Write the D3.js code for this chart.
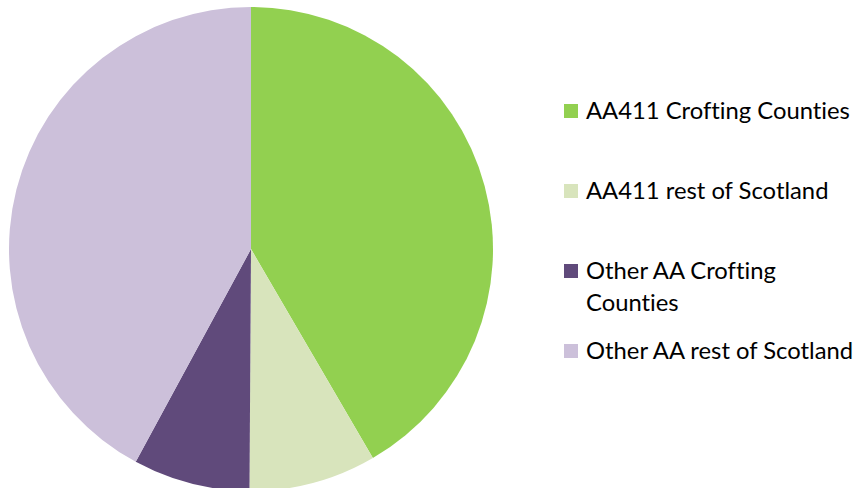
<!DOCTYPE html>
<html>
<head>
<meta charset="utf-8">
<script src="https://cdn.jsdelivr.net/npm/d3@7.9.0/dist/d3.min.js"></script>
<style>
  html, body { margin: 0; padding: 0; background: #fff; }
  svg { display: block; }
  text { font-variant-ligatures: none; font-feature-settings: "liga" 0, "clig" 0; }
</style>
</head>
<body>
<svg id="chart" width="861" height="488"></svg>
<script>
const categories = ["AA411 Crofting Counties", "AA411 rest of Scotland", "Other AA Crofting Counties", "Other AA rest of Scotland"];
const values = [41.6, 8.5, 7.8, 42.1];
const colors = ["#92D050", "#D8E4BC", "#604A7B", "#CCC0DA"];
// legend text as it wraps in the original
const legendLines = [["AA411 Crofting Counties"], ["AA411 rest of Scotland"], ["Other AA Crofting", "Counties"], ["Other AA rest of Scotland"]];

const width = 861, height = 488;
const cx = 251, cy = 249, radius = 242;

const svg = d3.select("#chart");

const data = categories.map((c, i) => ({ name: c, value: values[i], color: colors[i] }));

const pie = d3.pie()
  .sort(null)
  .value(d => d.value);

const arc = d3.arc()
  .innerRadius(0)
  .outerRadius(radius);

const g = svg.append("g").attr("transform", `translate(${cx},${cy})`);

g.selectAll("path")
  .data(pie(data))
  .join("path")
  .attr("d", arc)
  .attr("fill", d => d.data.color);

// legend
const rowY = d3.scalePoint()
  .domain(categories)
  .range([111, 351]);

const legend = svg.append("g").attr("font-family", "Lato, 'Open Sans', sans-serif");

const rows = legend.selectAll("g")
  .data(data)
  .join("g")
  .attr("transform", d => `translate(0,${rowY(d.name)})`);

rows.append("rect")
  .attr("x", 564)
  .attr("y", -7)
  .attr("width", 14)
  .attr("height", 14)
  .attr("fill", d => d.color);

const texts = rows.append("text")
  .attr("x", 586)
  .attr("fill", "#000")
  .attr("font-size", "22px");

texts.selectAll("tspan")
  .data((d, i) => legendLines[i])
  .join("tspan")
  .attr("x", 586)
  .attr("y", (d, i) => i * 32)
  .attr("dy", "0.35em")
  .text(d => d);

// fit font size so the first label spans like the original
const probe = texts.filter((d, i) => i === 0).node();
const w = probe.getComputedTextLength();
const size = 22 * 264 / w;
texts.attr("font-size", size + "px");
</script>
</body>
</html>
